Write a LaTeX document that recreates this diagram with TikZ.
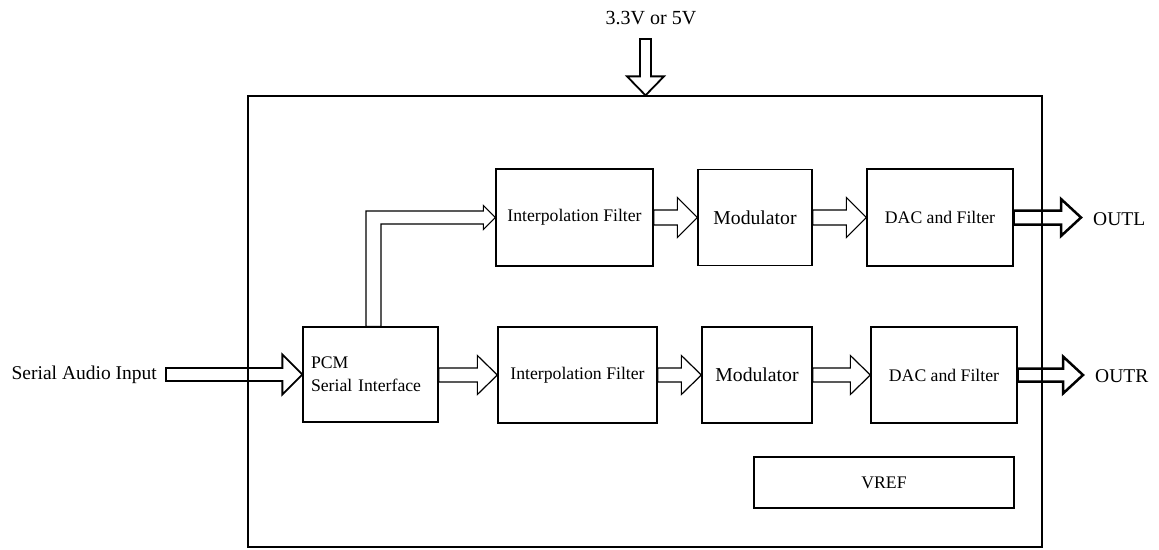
\documentclass[tikz,border=0pt]{standalone}
\usepackage{fontspec}
\setmainfont{Liberation Serif}
\usetikzlibrary{calc}
\newcommand{\blockarrowH}[5][]{%
  \draw[#1] let \p1=(#2), \p2=(#3) in
    (\x1,\y2+#4) -- (\x2-20pt,\y2+#4) -- (\x2-20pt,\y2+#5) -- (\x2,\y2)
    -- (\x2-20pt,\y2-#5) -- (\x2-20pt,\y2-#4) -- (\x1,\y2-#4) -- cycle;}
\tikzset{
  blk/.style={draw, line width=1.3pt, rectangle, inner sep=0pt, font=\fontsize{17.7}{21}\selectfont},
  arr/.style={draw, line width=1.2pt, line join=miter},
  inarr/.style={draw, line width=1.8pt, line join=miter},
  outarr/.style={draw, line width=2.5pt, line join=miter},
  lbl/.style={inner sep=0pt, font=\fontsize{19.5}{23}\selectfont}
}
\begin{document}
\begin{tikzpicture}[x=1pt,y=-1pt]
\useasboundingbox (0,0) rectangle (1159,549);
% frame
\node[blk, minimum width=794pt, minimum height=451pt] (frame) at (645,321.5) {};
% blocks
\node[blk, minimum width=135pt, minimum height=95pt, text width=119pt, align=left,
      font=\fontsize{17.7}{23}\selectfont] (pcm) at (370.5,374.5) {PCM\\Serial Interface};
\node[blk, minimum width=157pt, minimum height=97pt] (itop) at (574.5,217.5) {Interpolation Filter};
\node[blk, minimum width=114pt, minimum height=96pt, font=\fontsize{19.7}{23}\selectfont] (mtop) at (755,217.5) {Modulator};
\node[blk, minimum width=146pt, minimum height=97pt] (dtop) at (940,217.5) {DAC and Filter};
\node[blk, minimum width=159pt, minimum height=96pt] (ibot) at (577.5,375) {Interpolation Filter};
\node[blk, minimum width=110pt, minimum height=96pt, font=\fontsize{19.7}{23}\selectfont] (mbot) at (757,375) {Modulator};
\node[blk, minimum width=146pt, minimum height=96pt] (dbot) at (944,375) {DAC and Filter};
\node[blk, minimum width=260pt, minimum height=51pt] (vref) at (884,482.5) {VREF};
% labels
\node[lbl, font=\fontsize{20}{24}\selectfont] (vin) at (651,18) {3.3V or 5V};
\node[lbl, anchor=east] (sai) at (157,375) {Serial Audio Input};
\node[lbl, anchor=west] (outl) at (1093,219) {OUTL};
\node[lbl, anchor=west] (outr) at (1095,376) {OUTR};
\coordinate (sain) at (166,376);
\coordinate (pwr) at (645.5,39);
\coordinate (outlt) at (1081,217.5);
\coordinate (outrt) at (1083,375);
% power arrow
\draw[inarr] let \p1=(pwr), \p2=(frame.north) in
  (\x1-5.5pt,\y1) -- (\x1-5.5pt,\y2+19pt) -- (\x1-18.5pt,\y2+19pt) -- (\x1,\y2)
  -- (\x1+18.5pt,\y2+19pt) -- (\x1+5.5pt,\y2+19pt) -- (\x1+5.5pt,\y1) -- cycle;
% serial input arrow
\blockarrowH[inarr]{sain}{pcm.west}{6.5pt}{20pt}
% bottom row
\blockarrowH[arr]{pcm.east}{ibot.west}{7pt}{19.5pt}
\blockarrowH[arr]{ibot.east}{mbot.west}{7pt}{19.5pt}
\blockarrowH[arr]{mbot.east}{dbot.west}{7pt}{19.5pt}
% top row
\blockarrowH[arr]{itop.east}{mtop.west}{7.5pt}{20pt}
\blockarrowH[arr]{mtop.east}{dtop.west}{7.5pt}{20pt}
% outputs
\blockarrowH[outarr]{dtop.east}{outlt}{7pt}{18.5pt}
\blockarrowH[outarr]{dbot.east}{outrt}{6.5pt}{18.5pt}
% L-shaped arrow from PCM to top interpolation filter
\draw[arr] let \p1=(pcm.north), \p2=(itop.west) in
  (\x1-4.5pt,\y1) -- (\x1-4.5pt,\y2+6.5pt) -- (\x2-12pt,\y2+6.5pt) -- (\x2-12pt,\y2+12pt)
  -- (\x2,\y2) -- (\x2-12pt,\y2-12pt) -- (\x2-12pt,\y2-6.5pt) -- (\x1+10.5pt,\y2-6.5pt)
  -- (\x1+10.5pt,\y1) -- cycle;
\end{tikzpicture}
\end{document}
